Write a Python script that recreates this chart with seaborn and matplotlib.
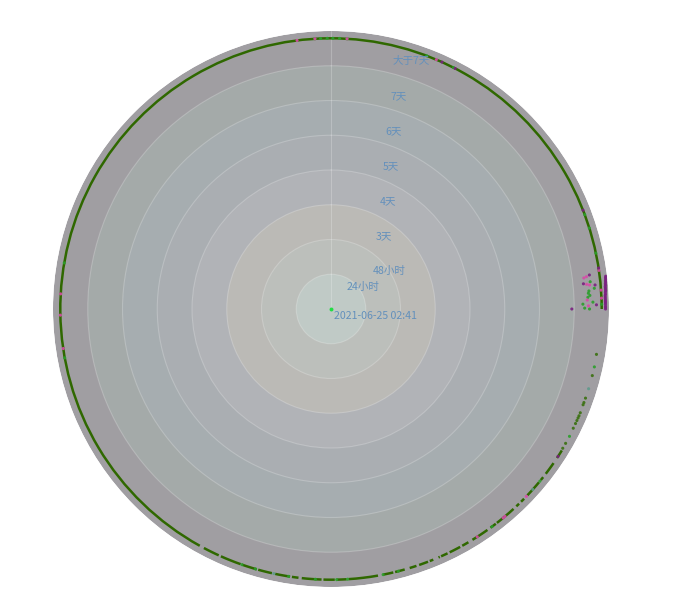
import numpy as np
import pandas as pd
import matplotlib
matplotlib.use("Agg")
import matplotlib.pyplot as plt
import seaborn as sns

# rings, outermost first
ring_values = [8, 7, 6, 5, 4, 3, 2, 1]
ring_colors = ["#a09ea2", "#a4aaa9", "#a6adb0", "#aaaeb2", "#b1b3b7", "#bbbab6", "#bcbfbb", "#c0cac6"]
ring_labels = ["大于7天", "7天", "6天", "5天", "4天", "3天", "48小时", "24小时"]
center_label = "2021-06-25 02:41"

# dark green line, start and end angle of each stretch (degrees, clockwise from north)
arc_start = [121.5, 124.7, 128.4, 129.8, 134.5, 136.0, 137.6, 142.5, 144.7, 149.5, 151.5, 154.5,
             156.3, 157.8, 159.0, 161.6, 164.2, 166.7, 170.0, 176.7, 179.2, 182.0, 186.9, 188.7,
             192.6, 195.9, 199.5, 204.5, 209.0]
arc_end = [123.4, 127.5, 129.2, 133.5, 135.4, 136.8, 142.2, 143.9, 148.5, 151.0, 154.0, 156.0,
           156.6, 158.6, 161.0, 163.1, 166.3, 168.9, 176.3, 178.8, 181.6, 186.2, 188.3, 191.9,
           195.6, 199.2, 204.0, 208.0, 450.0]
line_value = 7.79

# single points
dark_angle = [99.7, 104.3, 109.3, 110.3, 110.8, 112.6, 113.3, 113.8, 114.4, 115.1, 116.2, 119.8, 121.0]
dark_value = [7.75, 7.76, 7.76, 7.76, 7.76, 7.77, 7.77, 7.77, 7.77, 7.77, 7.77, 7.78, 7.78]

green_angle = [84.0, 86.0, 86.5, 87.4, 88.9, 88.5, 89.8, 90.0, 85.5, 87.0, 102.4, 118.1, 129.5, 143.5,
               -3.4, -2.2, -0.8, 0.4, 1.8, 3.4, 20.7, 26.9, 69.6, 72.6, 78.1, 89.0,
               259.6, 279.8, 199.2, 196.2, 189.0, 183.3, 178.8, 176.5, 168.9, 165.6]
green_value = [7.50, 7.44, 7.42, 7.40, 7.25, 7.54, 7.30, 7.44, 7.60, 7.46, 7.76, 7.78, 7.79, 7.79,
               7.79, 7.79, 7.79, 7.79, 7.79, 7.79, 7.79, 7.79, 7.79, 7.79, 7.79, 7.79,
               7.79, 7.79, 7.79, 7.79, 7.79, 7.79, 7.79, 7.79, 7.79, 7.79]

pink_angle = [83.0, 82.8, 84.5, 84.7, 88.0, 89.3, -7.2, -3.4, 3.4, 22.9, 81.8, 86.0, 87.7,
              273.2, 268.7, 261.6, 147.3, 140.5, 140.0, 133.8, 86.9, 88.4]
pink_value = [7.33, 7.41, 7.39, 7.47, 7.38, 7.41, 7.79, 7.79, 7.79, 7.79, 7.79, 7.79, 7.79,
              7.79, 7.79, 7.79, 7.79, 7.79, 7.79, 7.79, 7.91, 7.90]

purple_angle = [82.5, 84.3, 84.8, 89.1, 90.0, 24.2, 27.3, 68.6, 81.3, 123.0,
                83.2, 83.5, 83.8, 84.1, 84.4, 84.7, 85.0, 85.3, 85.6, 85.9, 86.2, 86.5, 86.9,
                87.2, 87.5, 87.8, 88.1, 88.4, 88.7, 89.0, 89.4, 89.7, 90.0]
purple_value = [7.50, 7.30, 7.63, 7.64, 6.93, 7.79, 7.79, 7.79, 7.79, 7.79,
                7.96, 7.95, 7.95, 7.94, 7.94, 7.93, 7.93, 7.92, 7.92, 7.92, 7.92, 7.91, 7.91,
                7.90, 7.90, 7.90, 7.90, 7.90, 7.90, 7.90, 7.90, 7.90, 7.90]

teal_angle = [107.2, 131.8, 192.2]
teal_value = [7.76, 7.79, 7.79]

sns.set_theme(style="white")
plt.rcParams["font.family"] = ["Noto Sans CJK SC", "DejaVu Sans"]

fig = plt.figure(figsize=(6.75, 6.07), dpi=100)
ax = fig.add_axes([53 / 675, 20 / 607, 556 / 675, 556 / 607], projection="polar")
ax.set_theta_zero_location("N")
ax.set_theta_direction(-1)

# nested discs
for valor, cor in zip(ring_values, ring_colors):
    ax.bar(np.pi, valor, width=2 * np.pi, bottom=0, color=cor, linewidth=0, zorder=1)

# dark green stretches
inicio = np.deg2rad(arc_start)
fim = np.deg2rad(arc_end)
ax.bar((inicio + fim) / 2, 0.072, width=fim - inicio, bottom=line_value - 0.036,
       color="#2f6800", linewidth=0, zorder=3)

pontos = pd.concat([
    pd.DataFrame({"angulo": dark_angle, "valor": dark_value, "tipo": "dark"}),
    pd.DataFrame({"angulo": teal_angle, "valor": teal_value, "tipo": "teal"}),
    pd.DataFrame({"angulo": green_angle, "valor": green_value, "tipo": "green"}),
    pd.DataFrame({"angulo": pink_angle, "valor": pink_value, "tipo": "pink"}),
    pd.DataFrame({"angulo": purple_angle, "valor": purple_value, "tipo": "purple"}),
])
pontos["theta"] = np.deg2rad(pontos["angulo"])
cores = {"dark": "#3a7010", "teal": "#5f9a8c", "green": "#2c9e2c", "pink": "#d84aa8", "purple": "#7a2080"}
sns.scatterplot(data=pontos, x="theta", y="valor", hue="tipo", palette=cores, s=5, linewidth=0,
                alpha=0.9, legend=False, ax=ax, zorder=4)

# the centre point
sns.scatterplot(x=[0], y=[0], color="#22dd44", s=8, linewidth=0, ax=ax, zorder=5)

ax.set_ylim(0, 8)
ax.set_rgrids(ring_values[1:], labels=[""] * 7)
ax.set_thetagrids([0], labels=[""])
ax.grid(True, color="#ffffff", alpha=0.22, linewidth=0.8)
ax.set_axisbelow(False)
ax.spines["polar"].set_visible(False)
ax.set_xlabel("")
ax.set_ylabel("")
ax.tick_params(length=0)

# labels sit at fixed pixels in the reference
label_x = [411, 399, 394, 391, 388, 384, 389, 363]
label_y = [61, 96, 131, 166, 201, 236, 271, 287]
for texto, x, y in zip(ring_labels, label_x, label_y):
    fig.text(x / 675, 1 - y / 607, texto, color="#6390bc", fontsize=7.6, ha="center", va="center")
fig.text(375.5 / 675, 1 - 316 / 607, center_label, color="#6390bc", fontsize=7.6, ha="center", va="center")

fig.savefig("out.png", dpi=100)
